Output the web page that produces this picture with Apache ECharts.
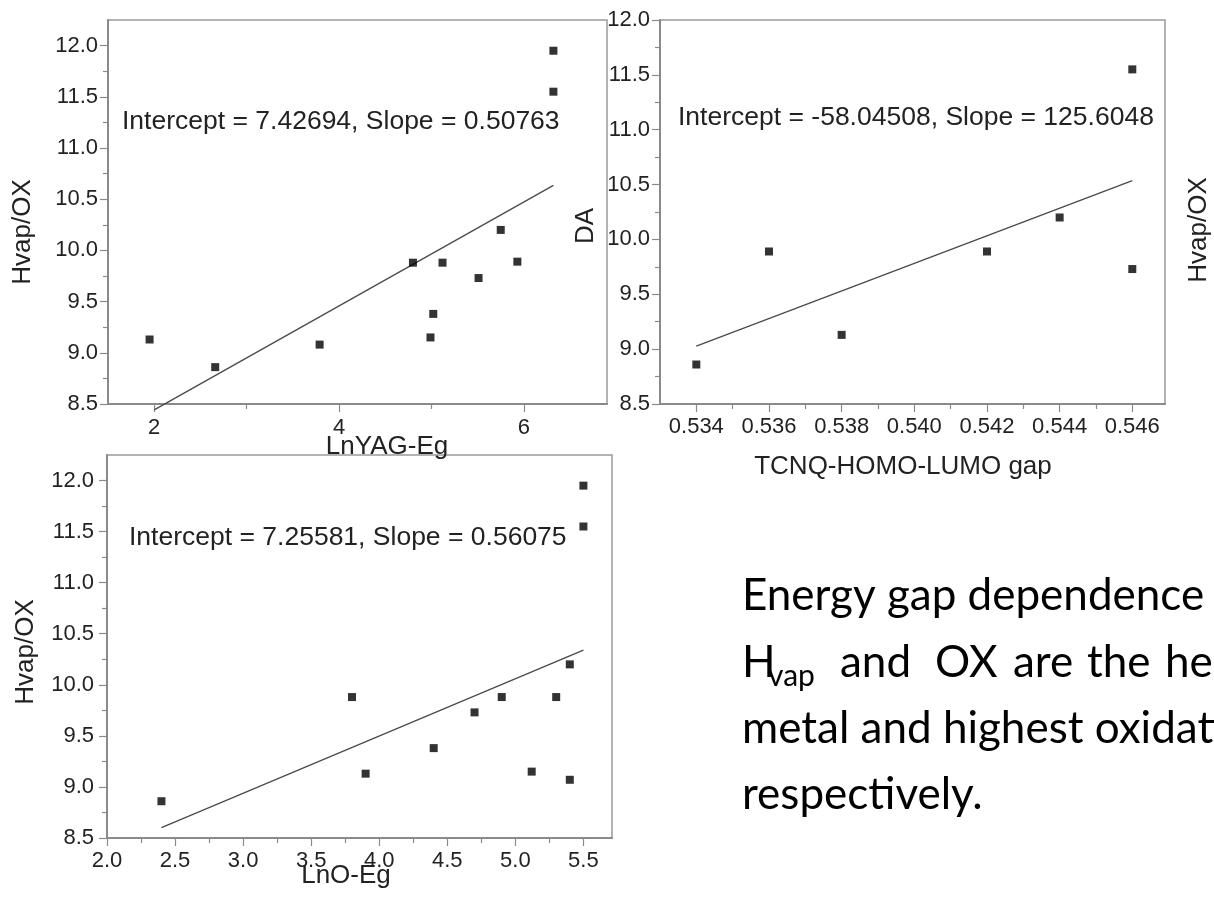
<!DOCTYPE html>
<html>
<head>
<meta charset="utf-8">
<script src="https://cdn.jsdelivr.net/npm/echarts@6/dist/echarts.min.js"></script>
<style>
  html, body { margin: 0; padding: 0; background: #fff; }
  #chart { width: 1214px; height: 912px; }
</style>
</head>
<body>
<div id="chart"></div>
<script>
// Hvap/OX against the Ln-YAG energy gap
const yagX = [1.95, 2.66, 3.79, 4.80, 4.99, 5.02, 5.12, 5.51, 5.75, 5.93, 6.32, 6.32];
const yagY = [9.13, 8.86, 9.08, 9.88, 9.15, 9.38, 9.88, 9.73, 10.20, 9.89, 11.95, 11.55];
const yagIntercept = 7.42694;
const yagSlope = 0.50763;
const yagFitSpan = [2.0, 6.32];

// DA against the TCNQ HOMO-LUMO gap
const tcnqX = [0.534, 0.536, 0.538, 0.542, 0.544, 0.546, 0.546];
const tcnqY = [8.86, 9.89, 9.13, 9.89, 10.20, 11.55, 9.73];
const tcnqIntercept = -58.04508;
const tcnqSlope = 125.6048;
const tcnqFitSpan = [0.534, 0.546];

// Hvap/OX against the Ln-O energy gap
const lnoX = [2.4, 3.8, 3.9, 4.4, 4.7, 4.9, 5.12, 5.3, 5.4, 5.4, 5.5, 5.5];
const lnoY = [8.86, 9.88, 9.13, 9.38, 9.73, 9.88, 9.15, 9.88, 10.20, 9.07, 11.95, 11.55];
const lnoIntercept = 7.25581;
const lnoSlope = 0.56075;
const lnoFitSpan = [2.4, 5.5];

// tick positions
const yMajorTicks = [8.5, 9.0, 9.5, 10.0, 10.5, 11.0, 11.5, 12.0];
const yMinorTicks = [8.75, 9.25, 9.75, 10.25, 10.75, 11.25, 11.75];
const yagXMajor = [2, 4, 6];
const yagXMinor = [3, 5];
const tcnqXMajor = [0.534, 0.536, 0.538, 0.540, 0.542, 0.544, 0.546];
const tcnqXMinor = [0.535, 0.537, 0.539, 0.541, 0.543, 0.545];
const lnoXMajor = [2.0, 2.5, 3.0, 3.5, 4.0, 4.5, 5.0, 5.5];
const lnoXMinor = [2.25, 2.75, 3.25, 3.75, 4.25, 4.75, 5.25];

const FONT = '"Liberation Sans", Arial, sans-serif';
const AXIS_GREY = '#8a8a8a';
const TEXT = '#222';
const TICK_FONT = 22;
const NAME_FONT = 26;
const FIT_FONT = 26.5;

function pairs(xs, ys) { return xs.map((x, i) => [x, ys[i]]); }
function fitLine(a, b, span) { return span.map(x => [x, a + b * x]); }

function mainX(grid, min, max, major, fmt, margin) {
  return {
    type: 'value', gridIndex: grid, position: 'bottom', min, max,
    axisLine: { show: true, lineStyle: { color: AXIS_GREY, width: 2 } },
    axisTick: { show: true, customValues: major, length: 8, lineStyle: { color: AXIS_GREY, width: 1.2 } },
    axisLabel: { show: true, customValues: major, formatter: fmt, margin,
                 color: TEXT, fontFamily: FONT, fontSize: TICK_FONT },
    splitLine: { show: false }
  };
}
function minorX(grid, min, max, minor) {
  return {
    type: 'value', gridIndex: grid, position: 'bottom', min, max,
    axisLine: { show: false },
    axisTick: { show: true, customValues: minor, length: 5, lineStyle: { color: AXIS_GREY, width: 1.2 } },
    axisLabel: { show: false },
    splitLine: { show: false }
  };
}
function mainY(grid, min, max, margin) {
  return {
    type: 'value', gridIndex: grid, position: 'left', min, max,
    axisLine: { show: true, lineStyle: { color: AXIS_GREY, width: 2 } },
    axisTick: { show: true, customValues: yMajorTicks, length: 8, lineStyle: { color: AXIS_GREY, width: 1.2 } },
    axisLabel: { show: true, customValues: yMajorTicks, formatter: v => Number(v).toFixed(1), margin,
                 color: TEXT, fontFamily: FONT, fontSize: TICK_FONT },
    splitLine: { show: false }
  };
}
function minorY(grid, min, max) {
  return {
    type: 'value', gridIndex: grid, position: 'left', min, max,
    axisLine: { show: false },
    axisTick: { show: true, customValues: yMinorTicks, length: 5, lineStyle: { color: AXIS_GREY, width: 1.2 } },
    axisLabel: { show: false },
    splitLine: { show: false }
  };
}

function scatter(xi, yi, data) {
  return { type: 'scatter', xAxisIndex: xi, yAxisIndex: yi, data,
           symbol: 'rect', symbolSize: 8, itemStyle: { color: '#000' }, z: 4 };
}
function line(xi, yi, data) {
  return { type: 'line', xAxisIndex: xi, yAxisIndex: yi, data, clip: false,
           symbol: 'none', lineStyle: { color: '#4a4a4a', width: 1.3 }, z: 3 };
}

function label(text, x, y, size, opts) {
  return Object.assign({
    type: 'text', x, y, silent: true,
    style: { text, font: `${size}px ${FONT}`, fill: TEXT,
             align: 'center', verticalAlign: 'middle' }
  }, opts || {});
}
function vlabel(text, x, y, size) {
  return label(text, x, y, size, { rotation: Math.PI / 2 });
}
function leftLabel(text, x, y, size) {
  return {
    type: 'text', x, y, silent: true,
    style: { text, font: `${size}px ${FONT}`, fill: TEXT, align: 'left', verticalAlign: 'middle' }
  };
}

const CAPTION_FONT = 'Lato, "Open Sans", sans-serif';
function caption(text, x, y, size) {
  return {
    type: 'text', x, y, silent: true,
    style: { text, font: `${size}px ${CAPTION_FONT}`, fill: '#000', align: 'left', verticalAlign: 'middle' }
  };
}

const gridStyle = { show: true, borderColor: '#9a9a9a', borderWidth: 1.5, backgroundColor: '#fff',
                    outerBoundsMode: 'none', containLabel: false };

const option = {
  animation: false,
  backgroundColor: '#fff',
  grid: [
    Object.assign({ left: 108, top: 20, width: 499, height: 384 }, gridStyle),
    Object.assign({ left: 660, top: 20, width: 505, height: 384 }, gridStyle),
    Object.assign({ left: 107, top: 455, width: 505, height: 383 }, gridStyle)
  ],
  xAxis: [
    mainX(0, 1.5, 6.9, yagXMajor, v => String(Math.round(v)), 13),
    minorX(0, 1.5, 6.9, yagXMinor),
    mainX(1, 0.533, 0.5469, tcnqXMajor, v => Number(v).toFixed(3), 12),
    minorX(1, 0.533, 0.5469, tcnqXMinor),
    mainX(2, 2.0, 5.71, lnoXMajor, v => Number(v).toFixed(1), 12),
    minorX(2, 2.0, 5.71, lnoXMinor)
  ],
  yAxis: [
    mainY(0, 8.5, 12.25, 10),
    minorY(0, 8.5, 12.25),
    mainY(1, 8.5, 12.0, 10),
    minorY(1, 8.5, 12.0),
    mainY(2, 8.5, 12.25, 13),
    minorY(2, 8.5, 12.25)
  ],
  series: [
    scatter(0, 0, pairs(yagX, yagY)),
    line(0, 0, fitLine(yagIntercept, yagSlope, yagFitSpan)),
    scatter(2, 2, pairs(tcnqX, tcnqY)),
    line(2, 2, fitLine(tcnqIntercept, tcnqSlope, tcnqFitSpan)),
    scatter(4, 4, pairs(lnoX, lnoY)),
    line(4, 4, fitLine(lnoIntercept, lnoSlope, lnoFitSpan))
  ],
  graphic: [
    // fit equations
    leftLabel(`Intercept = ${yagIntercept}, Slope = ${yagSlope}`, 122, 122, FIT_FONT),
    leftLabel(`Intercept = ${tcnqIntercept}, Slope = ${tcnqSlope}`, 678, 118, FIT_FONT),
    leftLabel(`Intercept = ${lnoIntercept}, Slope = ${lnoSlope}`, 129, 538, FIT_FONT),
    // axis titles
    vlabel('Hvap/OX', 23, 232, NAME_FONT),
    label('LnYAG-Eg', 387, 447, NAME_FONT),
    vlabel('DA', 586, 226, NAME_FONT),
    label('TCNQ-HOMO-LUMO gap', 903, 467, NAME_FONT),
    vlabel('Hvap/OX', 26, 652, NAME_FONT),
    label('LnO-Eg', 346, 876, NAME_FONT),
    vlabel('Hvap/OX', 1199, 230, NAME_FONT),
    // caption
    caption('Energy gap dependence of', 742, 596, 44),
    caption('H', 742, 663, 44),
    caption('vap', 768, 676, 30),
    caption('and', 840, 663, 44),
    caption('OX', 935, 663, 44),
    caption('are', 1013, 663, 44),
    caption('the', 1087, 663, 44),
    caption('heat', 1165, 663, 44),
    caption('metal and highest oxidation', 742, 729, 44),
    caption('respectively.', 742, 795, 44)
  ]
};

const chart = echarts.init(document.getElementById('chart'), null, { renderer: 'canvas' });
chart.setOption(option);
</script>
</body>
</html>
